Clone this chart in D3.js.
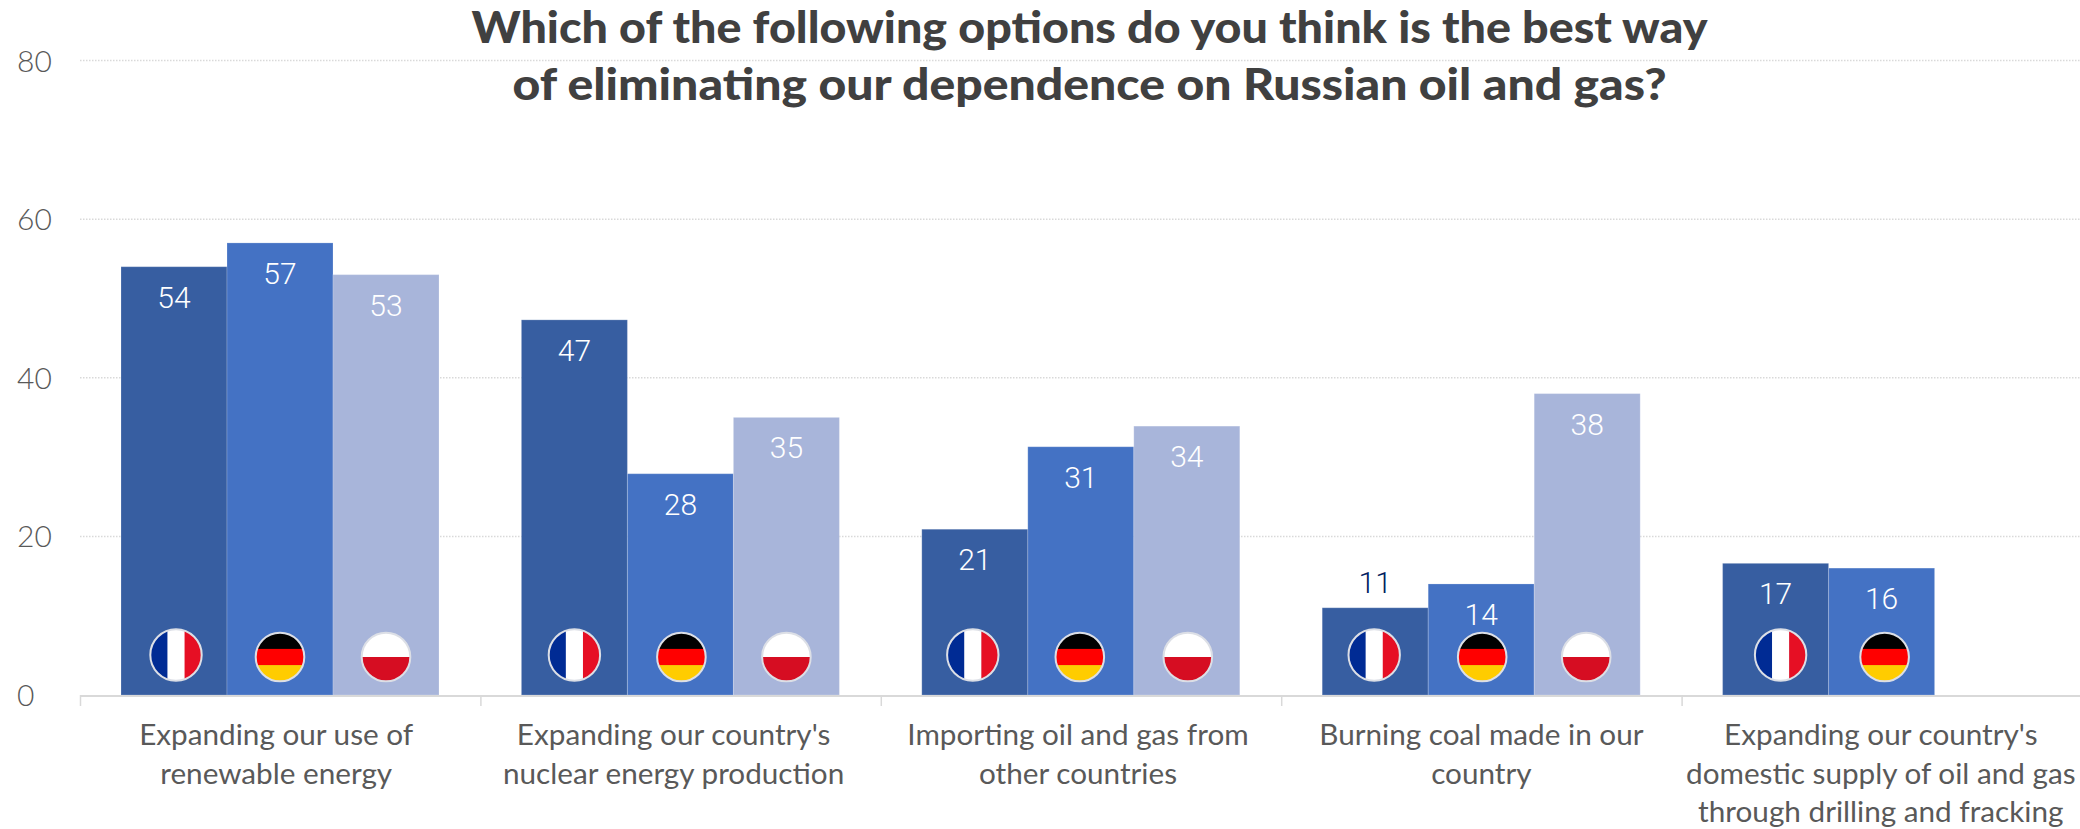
<!DOCTYPE html>
<html><head><meta charset="utf-8">
<script src="https://cdn.jsdelivr.net/npm/d3@7/dist/d3.min.js"></script>
<style>html,body{margin:0;background:#fff}svg{display:block}</style></head>
<body><svg id="c" width="2080" height="829"></svg>
<script>
const titleLines=["Which of the following options do you think is the best way","of eliminating our dependence on Russian oil and gas?"];
const categories=["Expanding our use of renewable energy","Expanding our country's nuclear energy production","Importing oil and gas from other countries","Burning coal made in our country","Expanding our country's domestic supply of oil and gas through drilling and fracking"];
const categoryLines=[["Expanding our use of","renewable energy"],["Expanding our country's","nuclear energy production"],["Importing oil and gas from","other countries"],["Burning coal made in our","country"],["Expanding our country's","domestic supply of oil and gas","through drilling and fracking"]];
const countries=["France","Germany","Poland"];
const france=[54,47.3,20.9,11,16.6];
const germany=[57,27.9,31.3,14,16];
const poland=[53,35,33.9,38,null];
const yTicks=[0,20,40,60,80];
const colors=["#375ea1","#4472c4","#a8b5da"];

// layout nudges (pixels), separate from the data
const labelShift=[-4,-7,-3,0,-1];
const flagShift=[[2,0,0],[0,1,0],[-2,-1,1],[-1,1,-1],[5,3,0]];
const titleWidths=[1236,1154];

const svg=d3.select("#c");
const y=d3.scaleLinear().domain([0,80]).range([695,60.5]);
const x0=d3.scaleBand().domain(categories).range([80,2082]);
const x1=d3.scaleBand().domain(countries).range([41,359]);
const series=[france,germany,poland];
const FONT="Lato, sans-serif";

svg.append("g").selectAll("line").data(yTicks.filter(d=>d>0)).join("line")
 .attr("x1",80).attr("x2",2080).attr("y1",d=>y(d)).attr("y2",d=>y(d))
 .attr("stroke","#d9d9d9").attr("stroke-width",1.5).attr("stroke-dasharray","1.5 1.5");

svg.append("g").selectAll("text").data(yTicks).join("text")
 .attr("x",17).attr("y",d=>y(d)+11).text(d=>d)
 .attr("font-family",FONT).attr("font-weight",300).attr("font-size",30).attr("fill","#595959");

categories.forEach((c,ci)=>{
 const g=svg.append("g");
 countries.forEach((k,si)=>{
  const v=series[si][ci];
  if(v==null) return;
  const bx=x0(c)+x1(k), bw=x1.bandwidth();
  g.append("rect").attr("x",bx).attr("y",y(v)).attr("width",bw).attr("height",y(0)-y(v)).attr("fill",colors[si])
   .attr("stroke","#fff").attr("stroke-opacity",.2).attr("stroke-width",1);
  const outside=v<12;
  g.append("text").attr("x",bx+bw/2).attr("y",outside?y(v)-15:y(v)+41).attr("text-anchor","middle")
   .text(d3.format(".0f")(v)).attr("font-family","Roboto, sans-serif").attr("font-weight",300).attr("font-size",30)
   .attr("fill",outside?"#002060":"#fff");
  flag(g,k,ci,bx+bw/2+flagShift[ci][si],y(0)-(si==0?40:38),si==0?25.7:24.3);
 });
});

function flag(g,k,ci,cx,cy,r){
 const id="f"+ci+k;
 g.append("clipPath").attr("id",id).append("circle").attr("cx",cx).attr("cy",cy).attr("r",r);
 const inner=g.append("g").attr("clip-path",`url(#${id})`);
 const bands={France:[["#002b94",0,1/3,"v"],["#fff",1/3,1/3,"v"],["#e60f24",2/3,1/3,"v"]],
  Germany:[["#000",0,1/3,"h"],["#f00",1/3,1/3,"h"],["#ffcc00",2/3,1/3,"h"]],
  Poland:[["#fff",0,1/2,"h"],["#d60d22",1/2,1/2,"h"]]}[k];
 bands.forEach(([col,s,l,o])=>{
  if(o=="v") inner.append("rect").attr("x",cx-r+2*r*s).attr("y",cy-r).attr("width",2*r*l+.5).attr("height",2*r).attr("fill",col);
  else inner.append("rect").attr("x",cx-r).attr("y",cy-r+2*r*s).attr("width",2*r).attr("height",2*r*l+.5).attr("fill",col);
 });
 g.append("circle").attr("cx",cx).attr("cy",cy).attr("r",r).attr("fill","none").attr("stroke","#dcdfe6").attr("stroke-width",2);
}

svg.append("line").attr("x1",80).attr("x2",2080).attr("y1",y(0)+1).attr("y2",y(0)+1).attr("stroke","#d9d9d9").attr("stroke-width",2);
svg.append("g").selectAll("line").data(categories).join("line")
 .attr("x1",d=>x0(d)+.5).attr("x2",d=>x0(d)+.5).attr("y1",y(0)).attr("y2",y(0)+11)
 .attr("stroke","#d9d9d9").attr("stroke-width",1.5);

categories.forEach((c,i)=>{
 svg.append("text").attr("text-anchor","middle").attr("font-family",FONT).attr("font-size",29.7).attr("fill","#595959")
  .selectAll("tspan").data(categoryLines[i]).join("tspan")
  .attr("x",x0(c)+x0.bandwidth()/2+labelShift[i]).attr("y",(d,j)=>745+j*38.5).text(d=>d);
});

svg.append("g").selectAll("text").data(titleLines).join("text")
 .attr("x",1089.5).attr("y",(d,i)=>43+i*57).attr("text-anchor","middle").text(d=>d)
 .attr("textLength",(d,i)=>titleWidths[i]).attr("lengthAdjust","spacingAndGlyphs")
 .attr("font-family",FONT).attr("font-weight",900).attr("font-size",44).attr("fill","#404040");
</script></body></html>
